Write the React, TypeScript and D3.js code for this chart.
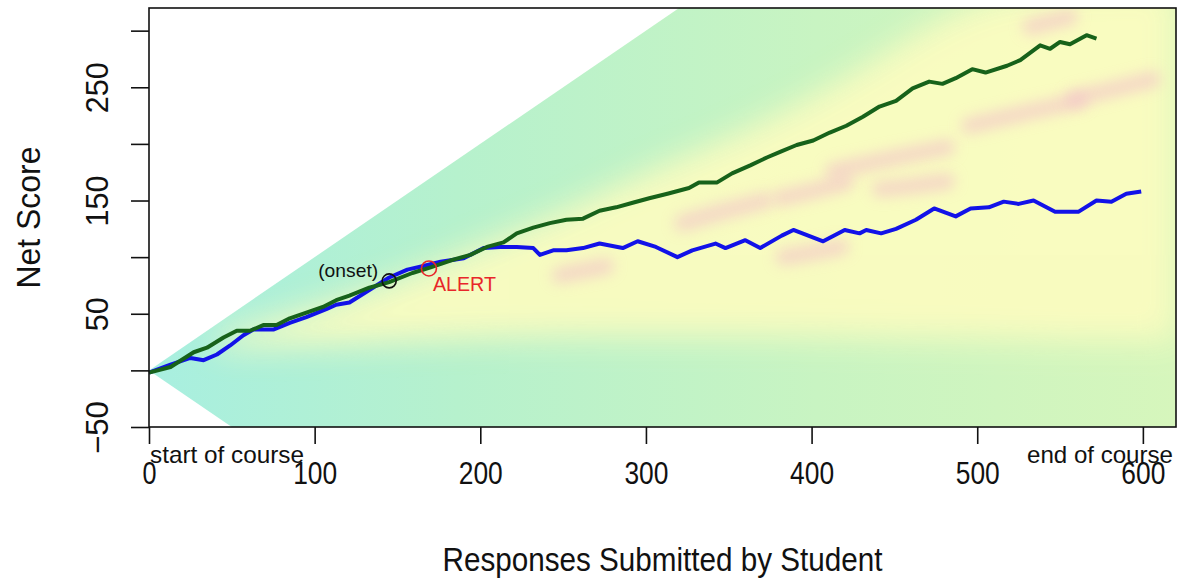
import React, { useEffect, useRef } from 'react';
import * as d3 from 'd3';

// Net score paths (responses submitted, net score)
const greenX = [0, 13, 27, 35, 45, 53, 61, 69, 77, 85, 95, 105, 113, 121, 133, 145, 159, 170, 182, 194, 204, 214, 222, 232, 242, 252, 262, 272, 282, 292, 302, 313, 326, 332, 343, 352, 363, 373, 381, 391, 401, 411, 421, 431, 441, 451, 461, 471, 479, 487, 497, 505, 518, 526, 538, 544, 550, 556, 566, 572];
const greenY = [-2, 3, 16, 20, 29, 35, 35, 40, 40, 46, 51, 56, 62, 66, 73, 78, 86, 91, 97, 102, 109, 113, 121, 126, 130, 133, 134, 141, 144, 148, 152, 156, 161, 166, 166, 174, 181, 188, 193, 199, 203, 210, 216, 224, 233, 238, 249, 255, 253, 258, 266, 263, 269, 274, 287, 284, 290, 288, 296, 293];

const blueX = [0, 13, 25, 33, 41, 49, 57, 63, 75, 85, 95, 107, 113, 121, 133, 145, 156, 165, 176, 190, 202, 212, 222, 232, 236, 244, 252, 262, 272, 286, 295, 306, 319, 328, 342, 348, 360, 369, 382, 389, 407, 420, 429, 433, 442, 451, 463, 474, 487, 496, 507, 516, 525, 534, 547, 561, 572, 581, 590, 599];
const blueY = [-2, 5, 11, 9, 14, 22, 31, 36, 36, 42, 47, 54, 58, 60, 71, 82, 89, 92, 96, 99, 108, 109, 109, 108, 102, 106, 106, 108, 112, 108, 114, 109, 100, 106, 112, 108, 115, 108, 119, 124, 114, 124, 121, 124, 121, 125, 133, 143, 136, 143, 144, 149, 147, 150, 140, 140, 150, 149, 156, 158];

const onsetPoint = [145, 79];
const alertPoint = [169, 90];

const xTicks = [0, 100, 200, 300, 400, 500, 600];
const yTicks = [-50, 0, 50, 100, 150, 200, 250, 300];
const yLabelled = [-50, 50, 150, 250];

// background density: yellow band limits and pink streaks
const bandX = [40, 100, 150, 200, 250, 300, 350, 400, 450, 500, 560, 620];
const bandLow = [20, 22, 25, 28, 30, 30, 30, 30, 28, 28, 26, 26];
const bandHigh = [30, 55, 80, 110, 140, 175, 205, 240, 285, 330, 340, 340];

const pinkStreaks = [
  [[248, 84], [262, 88], [276, 92]],
  [[322, 130], [345, 140], [372, 150]],
  [[383, 100], [400, 104], [418, 109]],
  [[381, 152], [400, 158], [421, 166]],
  [[413, 176], [450, 188], [482, 197]],
  [[441, 160], [462, 163], [482, 167]],
  [[495, 216], [530, 228], [562, 238]],
  [[558, 240], [582, 248], [606, 257]],
  [[532, 303], [545, 308], [556, 312]],
];

const FONT = '"Liberation Sans", Arial, Helvetica, sans-serif';

const App = () => {
  const svgRef = useRef<SVGSVGElement>(null);

  useEffect(() => {
    document.body.style.margin = '0';
    const svg = d3.select(svgRef.current);
    svg.selectAll('*').remove();

    const left = 149, right = 1176, top = 8, bottom = 427;
    const x = d3.scaleLinear().domain([0, 620]).range([left, right]);
    const y = d3.scaleLinear().domain([-50, 320]).range([bottom, top]);

    const defs = svg.append('defs');
    defs.append('clipPath').attr('id', 'plotClip')
      .append('rect').attr('x', left).attr('y', top).attr('width', right - left).attr('height', bottom - top);
    const wedge = [[0, 0], [620, 620], [620, -620]];
    defs.append('clipPath').attr('id', 'wedgeClip')
      .append('path').attr('d', d3.line()(wedge.map(([a, b]) => [x(a), y(b)]) as [number, number][]) + 'Z');

    const grad = defs.append('linearGradient').attr('id', 'baseGrad')
      .attr('gradientUnits', 'userSpaceOnUse')
      .attr('x1', x(0)).attr('x2', x(620)).attr('y1', 0).attr('y2', 0);
    [[0, '#a8efe0'], [0.3, '#b6f1cd'], [0.65, '#c8f4c2'], [1, '#d6f6bc']].forEach(([o, c]) =>
      grad.append('stop').attr('offset', o as number).attr('stop-color', c as string));

    const blur = (id: string, s: number) =>
      defs.append('filter').attr('id', id).attr('filterUnits', 'userSpaceOnUse')
        .attr('x', 0).attr('y', 0).attr('width', 1180).attr('height', 582)
        .append('feGaussianBlur').attr('stdDeviation', s);
    blur('blurBig', 16);
    blur('blurSmall', 7);

    // heat background inside the reachable wedge
    const heat = svg.append('g').attr('clip-path', 'url(#plotClip)')
      .append('g').attr('clip-path', 'url(#wedgeClip)');
    heat.append('rect').attr('x', left).attr('y', top).attr('width', right - left).attr('height', bottom - top)
      .attr('fill', 'url(#baseGrad)');

    const band = bandX.map((v, i) => ({ x: v, lo: bandLow[i], hi: bandHigh[i] }));
    const area = d3.area<{ x: number; lo: number; hi: number }>()
      .x((d) => x(d.x)).y0((d) => y(d.lo)).y1((d) => y(d.hi)).curve(d3.curveBasis);
    heat.append('path').datum(band).attr('d', area)
      .attr('fill', '#fcfcc0').attr('opacity', 0.92).attr('filter', 'url(#blurBig)');

    const streak = d3.line<number[]>().x((d) => x(d[0])).y((d) => y(d[1])).curve(d3.curveBasis);
    pinkStreaks.forEach((s) => {
      heat.append('path').attr('d', streak(s)).attr('fill', 'none')
        .attr('stroke', '#f3bfca').attr('stroke-width', 16).attr('stroke-linecap', 'round')
        .attr('opacity', 0.6).attr('filter', 'url(#blurSmall)');
    });

    // student paths
    const line = d3.line<[number, number]>().x((d) => x(d[0])).y((d) => y(d[1]));
    svg.append('path').datum(d3.zip(blueX, blueY) as [number, number][])
      .attr('d', line).attr('fill', 'none').attr('stroke', '#1212e8')
      .attr('stroke-width', 4).attr('stroke-linejoin', 'round');
    svg.append('path').datum(d3.zip(greenX, greenY) as [number, number][])
      .attr('d', line).attr('fill', 'none').attr('stroke', '#17621a')
      .attr('stroke-width', 4).attr('stroke-linejoin', 'round');

    // onset and alert markers
    svg.append('circle').attr('cx', x(onsetPoint[0])).attr('cy', y(onsetPoint[1])).attr('r', 7)
      .attr('fill', 'none').attr('stroke', '#111').attr('stroke-width', 1.6);
    svg.append('circle').attr('cx', x(alertPoint[0])).attr('cy', y(alertPoint[1])).attr('r', 7.5)
      .attr('fill', 'none').attr('stroke', '#e8262a').attr('stroke-width', 1.6);
    svg.append('text').attr('x', x(onsetPoint[0]) - 11).attr('y', y(onsetPoint[1]) - 4)
      .attr('text-anchor', 'end').attr('font-family', FONT).attr('font-size', 19)
      .attr('textLength', 60).attr('lengthAdjust', 'spacingAndGlyphs').attr('fill', '#111').text('(onset)');
    svg.append('text').attr('x', x(alertPoint[0]) + 4).attr('y', y(alertPoint[1]) + 23)
      .attr('font-family', FONT).attr('font-size', 20)
      .attr('textLength', 63).attr('lengthAdjust', 'spacingAndGlyphs').attr('fill', '#e8262a').text('ALERT');

    // box
    svg.append('rect').attr('x', left).attr('y', top).attr('width', right - left).attr('height', bottom - top)
      .attr('fill', 'none').attr('stroke', '#111').attr('stroke-width', 1.6);

    // x axis
    const xa = svg.append('g').attr('transform', `translate(0,${bottom})`)
      .call(d3.axisBottom(x).tickValues(xTicks).tickSize(17).tickSizeOuter(0).tickFormat(d3.format('d')));
    xa.select('.domain').remove();
    xa.selectAll('line').attr('stroke', '#111').attr('stroke-width', 1.6);
    xa.selectAll('text').attr('y', 57).attr('dy', 0).attr('fill', '#111')
      .attr('font-family', FONT).attr('font-size', 31)
      .attr('textLength', (d: any) => (d === 0 ? 14 : 44)).attr('lengthAdjust', 'spacingAndGlyphs');

    // y axis, every other tick labelled
    const ya = svg.append('g').attr('transform', `translate(${left},0)`)
      .call(d3.axisLeft(y).tickValues(yTicks).tickSize(18).tickSizeOuter(0)
        .tickFormat((d: any) => (yLabelled.includes(d) ? d3.format('d')(d) : '')));
    ya.select('.domain').remove();
    ya.selectAll('line').attr('stroke', '#111').attr('stroke-width', 1.6);
    ya.selectAll('text').attr('transform', 'rotate(-90)').attr('x', 0).attr('y', -41).attr('dy', 0)
      .attr('text-anchor', 'middle').attr('fill', '#111')
      .attr('font-family', FONT).attr('font-size', 31)
      .attr('textLength', (d: any) => (d === 50 ? 34 : d === -50 ? 53 : 51)).attr('lengthAdjust', 'spacingAndGlyphs');

    // course markers and axis titles
    svg.append('text').attr('x', 150).attr('y', 463).attr('font-family', FONT).attr('font-size', 24)
      .attr('textLength', 154).attr('lengthAdjust', 'spacingAndGlyphs').attr('fill', '#111').text('start of course');
    svg.append('text').attr('x', 1173).attr('y', 463).attr('text-anchor', 'end').attr('font-family', FONT).attr('font-size', 24)
      .attr('textLength', 146).attr('lengthAdjust', 'spacingAndGlyphs').attr('fill', '#111').text('end of course');
    svg.append('text').attr('x', (left + right) / 2).attr('y', 571).attr('text-anchor', 'middle')
      .attr('font-family', FONT).attr('font-size', 34)
      .attr('textLength', 440).attr('lengthAdjust', 'spacingAndGlyphs').attr('fill', '#111')
      .text('Responses Submitted by Student');
    svg.append('text').attr('transform', `translate(40,${(top + bottom) / 2}) rotate(-90)`)
      .attr('text-anchor', 'middle').attr('font-family', FONT).attr('font-size', 33)
      .attr('textLength', 142).attr('lengthAdjust', 'spacingAndGlyphs').attr('fill', '#111')
      .text('Net Score');
  }, []);

  return <svg ref={svgRef} width={1180} height={582} style={{ display: 'block', background: '#fff' }}></svg>;
};

export default App;
